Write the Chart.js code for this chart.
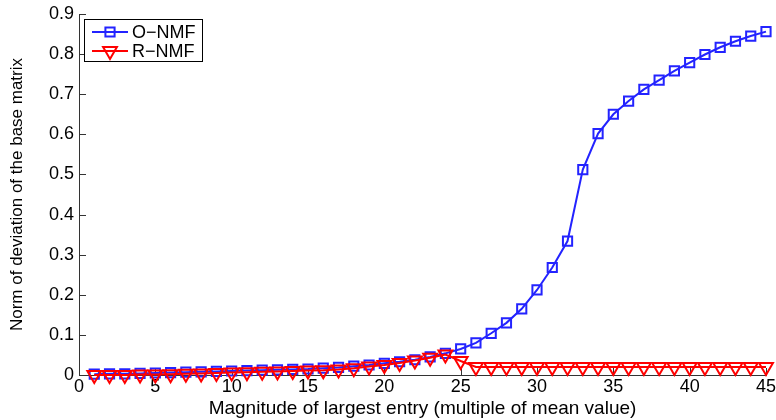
<!DOCTYPE html>
<html>
<head>
<meta charset="utf-8">
<script src="https://cdn.jsdelivr.net/npm/chart.js@4/dist/chart.umd.min.js"></script>
<style>
  html, body { margin: 0; padding: 0; background: #fff; }
  #wrap { width: 776px; height: 420px; }
</style>
</head>
<body>
<div id="wrap"><canvas id="devChart" width="776" height="420"></canvas></div>
<script>
// magnitude of the largest entry (multiple of mean value)
const magnitudes = [1, 2, 3, 4, 5, 6, 7, 8, 9, 10, 11, 12, 13, 14, 15, 16, 17, 18, 19, 20, 21, 22, 23,
    24, 25, 26, 27, 28, 29, 30, 31, 32, 33, 34, 35, 36, 37, 38, 39, 40, 41, 42, 43, 44, 45];

const oNmf = [0.002, 0.003, 0.003, 0.004, 0.005, 0.006, 0.007, 0.008, 0.009, 0.010, 0.011, 0.012,
    0.013, 0.014, 0.015, 0.017, 0.019, 0.022, 0.025, 0.029, 0.033, 0.038, 0.045, 0.054, 0.065,
    0.080, 0.104, 0.130, 0.165, 0.212, 0.268, 0.334, 0.512, 0.602, 0.650, 0.683, 0.712, 0.735,
    0.758, 0.779, 0.799, 0.817, 0.832, 0.845, 0.856];

const rNmf = [0.000, 0.000, 0.000, 0.001, 0.001, 0.002, 0.003, 0.004, 0.005, 0.006, 0.007, 0.008,
    0.009, 0.010, 0.011, 0.012, 0.014, 0.017, 0.021, 0.025, 0.030, 0.036, 0.043, 0.051, 0.035,
    0.020, 0.020, 0.020, 0.020, 0.020, 0.020, 0.020, 0.020, 0.020, 0.020, 0.020, 0.020, 0.020,
    0.020, 0.020, 0.020, 0.020, 0.020, 0.020, 0.020];

const xTickStep = 5;
const yTickStep = 0.1;

const FONT = { family: "'Liberation Sans', Arial, Helvetica, sans-serif", size: 18 };
const BLUE = "#2323ff";
const RED = "#ff0000";
const AXIS = "#333333";

function toPoints(ys) {
    return magnitudes.map((x, i) => ({ x: x, y: ys[i] }));
}

// ticks pointing into the plot, like the original figure
const innerTicks = {
    id: "innerTicks",
    beforeDatasetsDraw(chart) {
        const { ctx, chartArea, scales } = chart;
        ctx.save();
        ctx.strokeStyle = AXIS;
        ctx.lineWidth = 1;
        ctx.beginPath();
        scales.x.ticks.forEach(t => {
            const px = Math.round(scales.x.getPixelForValue(t.value)) + 0.5;
            ctx.moveTo(px, chartArea.bottom);
            ctx.lineTo(px, chartArea.bottom - 7);
        });
        scales.y.ticks.forEach(t => {
            const py = Math.round(scales.y.getPixelForValue(t.value)) + 0.5;
            ctx.moveTo(chartArea.left, py);
            ctx.lineTo(chartArea.left + 7, py);
        });
        ctx.stroke();
        ctx.restore();
    }
};

// boxed legend in the upper left corner
const boxLegend = {
    id: "boxLegend",
    afterDatasetsDraw(chart) {
        const ctx = chart.ctx;
        const left = 84, top = 19, w = 118, h = 42;
        ctx.save();
        ctx.fillStyle = "#fff";
        ctx.fillRect(left, top, w, h);
        ctx.strokeStyle = "#000";
        ctx.lineWidth = 1;
        ctx.strokeRect(left + 0.5, top + 0.5, w, h);
        const rows = [32, 51];
        chart.data.datasets.forEach((ds, i) => {
            const y = rows[i];
            ctx.strokeStyle = ds.borderColor;
            ctx.lineWidth = ds.borderWidth;
            ctx.beginPath();
            ctx.moveTo(92, y);
            ctx.lineTo(128, y);
            ctx.stroke();
            ctx.fillStyle = "rgba(0,0,0,0)";
            Chart.helpers.drawPoint(ctx, {
                pointStyle: ds.pointStyle,
                radius: ds.pointRadius,
                rotation: ds.pointRotation || 0,
                borderWidth: ds.pointBorderWidth
            }, 110, y);
            ctx.fillStyle = "#000";
            ctx.font = FONT.size + "px " + FONT.family;
            ctx.textBaseline = "middle";
            ctx.textAlign = "left";
            ctx.fillText(ds.label, 132, y + 1);
        });
        ctx.restore();
    }
};

new Chart(document.getElementById("devChart"), {
    type: "line",
    data: {
        datasets: [
            {
                label: "O\u2212NMF",
                data: toPoints(oNmf),
                borderColor: BLUE,
                borderWidth: 2,
                pointStyle: "rect",
                pointRadius: 6.5,
                pointBorderWidth: 2,
                pointBorderColor: BLUE,
                pointBackgroundColor: "rgba(0,0,0,0)",
                tension: 0,
                clip: false,
                order: 1
            },
            {
                label: "R\u2212NMF",
                data: toPoints(rNmf),
                borderColor: RED,
                borderWidth: 2,
                pointStyle: "triangle",
                pointRotation: 180,
                pointRadius: 8,
                pointBorderWidth: 2,
                pointBorderColor: RED,
                pointBackgroundColor: "rgba(0,0,0,0)",
                tension: 0,
                clip: false,
                order: 0
            }
        ]
    },
    options: {
        responsive: false,
        animation: false,
        devicePixelRatio: 1,
        layout: { padding: { top: 14, right: 6, left: 0, bottom: 0 } },
        plugins: {
            legend: { display: false },
            tooltip: { enabled: false }
        },
        scales: {
            x: {
                type: "linear",
                min: 0,
                max: 45,
                ticks: {
                    stepSize: xTickStep,
                    color: "#000",
                    font: FONT,
                    padding: 1,
                    maxRotation: 0
                },
                grid: { display: false, drawTicks: false },
                border: { display: true, color: AXIS, width: 1 },
                title: {
                    display: true,
                    text: "Magnitude of largest entry (multiple of mean value)",
                    color: "#000",
                    font: { family: FONT.family, size: 19 },
                    padding: { top: 0, bottom: 0 }
                },
                afterFit: s => { s.height = 45; s.paddingLeft = 0; s.paddingRight = 0; }
            },
            y: {
                min: 0,
                max: 0.9,
                ticks: {
                    stepSize: yTickStep,
                    color: "#000",
                    font: FONT,
                    padding: 5,
                    callback: v => v === 0 ? "0" : v.toFixed(1)
                },
                grid: { display: false, drawTicks: false },
                border: { display: true, color: AXIS, width: 1 },
                title: {
                    display: true,
                    text: "Norm of deviation of the base matrix",
                    color: "#000",
                    font: { family: FONT.family, size: 17 },
                    padding: { top: 7, bottom: 0 }
                },
                afterFit: s => { s.width = 79; s.paddingTop = 0; s.paddingBottom = 0; }
            }
        }
    },
    plugins: [innerTicks, boxLegend]
});
</script>
</body>
</html>
